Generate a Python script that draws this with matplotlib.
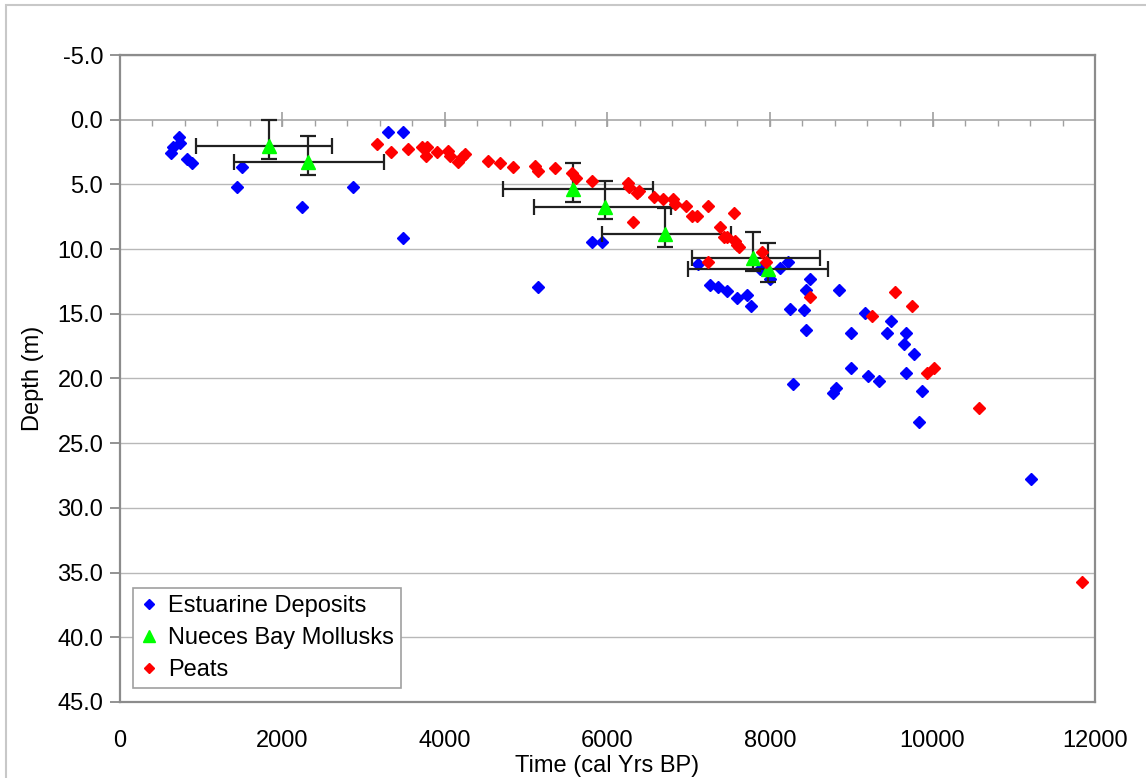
import numpy as np
import matplotlib
matplotlib.use("Agg")
import matplotlib.pyplot as plt
from matplotlib.patches import Rectangle

plt.rcParams['font.family'] = ['Liberation Sans', 'DejaVu Sans']

# Estuarine deposits (blue diamonds)
est_time = [726, 739, 648, 628, 829, 882, 1497, 1445, 2244, 2872, 3294, 3487, 3487,
            5140, 5809, 5932, 7109, 7265, 7355, 7470, 7597, 7720, 7766, 7872, 7996,
            8127, 8216, 8437, 8498, 8851, 8246, 8418, 8438, 8279, 8779, 8808, 8993,
            8993, 9169, 9202, 9345, 9490, 9443, 9670, 9653, 9776, 9670, 9867, 9833,
            11212]
est_depth = [1.31, 1.83, 2.13, 2.6, 3.06, 3.37, 3.68, 5.22, 6.72, 5.22, 0.93, 0.93, 9.12,
             12.9, 9.47, 9.47, 11.17, 12.77, 12.9, 13.24, 13.77, 13.58, 14.4, 11.56, 12.33,
             11.48, 10.97, 13.13, 12.28, 13.13, 14.65, 14.7, 16.25, 20.45, 21.15, 20.76, 16.5,
             19.2, 14.91, 19.78, 20.19, 15.56, 16.5, 16.46, 17.33, 18.13, 19.55, 20.97, 23.39,
             27.77]

# Nueces Bay mollusks (green triangles with error ranges)
moll_time = [1830, 2318, 5575, 5969, 6712, 7787, 7980]
moll_depth = [2.0, 3.27, 5.36, 6.75, 8.86, 10.66, 11.54]
moll_time_lo = [931, 1407, 4710, 5099, 5928, 7036, 6994]
moll_time_hi = [2609, 3249, 6564, 6782, 7520, 8615, 8710]
moll_depth_lo = [0.02, 1.24, 3.32, 4.74, 6.8, 8.7, 9.55]
moll_depth_hi = [3.06, 4.27, 6.34, 7.7, 9.81, 11.67, 12.52]

# Peats (red diamonds)
peat_time = [3159, 3335, 3549, 3721, 3783, 3766, 3898, 4033, 4062, 4165, 4205, 4246,
             4533, 4677, 4841, 5108, 5148, 5354, 5560, 5609, 5813, 6257, 6270, 6360,
             6392, 6319, 6574, 6688, 6812, 6831, 6963, 7036, 7106, 7233, 7552, 7380,
             7429, 7470, 7569, 7598, 7613, 7898, 7236, 7951, 8492, 9252, 9538, 9748,
             9932, 10015, 10576, 11844]
peat_depth = [1.9, 2.47, 2.29, 2.09, 2.09, 2.8, 2.47, 2.42, 2.8, 3.24, 2.86, 2.68,
              3.19, 3.37, 3.63, 3.55, 3.96, 3.76, 4.14, 4.48, 4.74, 4.87, 5.18, 5.69,
              5.49, 7.93, 5.95, 6.13, 6.13, 6.51, 6.67, 7.44, 7.44, 6.67, 7.23, 8.27,
              9.09, 9.09, 9.35, 9.68, 9.81, 10.2, 11.0, 10.97, 13.74, 15.17, 13.29, 14.37,
              19.55, 19.21, 22.3, 35.73]

fig = plt.figure(figsize=(11.46, 7.78), dpi=100)
ax = fig.add_axes([0.1047, 0.0977, 0.8508, 0.8316])

# outer chart border
fig.patches.append(Rectangle((6 / 1146, -0.01), 1.02, 1 - 5 / 778 + 0.01,
                             transform=fig.transFigure, fill=False,
                             edgecolor='#c8c8c8', linewidth=1.5))

ax.set_xlim(0, 12000)
ax.set_ylim(45, -5)
for d in range(-5, 50, 5):
    if d != 0:
        ax.axhline(d, color='#b8b8b8', linewidth=1, zorder=0)

# horizontal axis drawn at depth 0 (Excel style)
ax.axhline(0, color='#a8a8a8', linewidth=1.2, zorder=1)
ax.vlines(np.arange(0, 12001, 2000), -0.6, 0.55, color='#a0a0a0', linewidth=1.2, zorder=1)
ax.vlines(np.arange(400, 12000, 400), 0, 0.45, color='#a0a0a0', linewidth=1, zorder=1)

h1, = ax.plot(est_time, est_depth, linestyle='none', marker='D', markersize=6,
              color='#0000ff', label='Estuarine Deposits', zorder=3)

mt = np.array(moll_time)
md = np.array(moll_depth)
xerr = [mt - np.array(moll_time_lo), np.array(moll_time_hi) - mt]
yerr = [md - np.array(moll_depth_lo), np.array(moll_depth_hi) - md]
ax.errorbar(mt, md, xerr=xerr, yerr=yerr, fmt='none', ecolor='#202020',
            elinewidth=1.6, capsize=5.5, capthick=1.6, zorder=4)
h2, = ax.plot(mt, md, linestyle='none', marker='^', markersize=10,
              color='#00ff00', label='Nueces Bay Mollusks', zorder=5)

h3, = ax.plot(peat_time, peat_depth, linestyle='none', marker='D', markersize=6,
              color='#ff0000', label='Peats', zorder=6)

ax.set_xticks(np.arange(0, 12001, 2000))
ax.set_yticks(np.arange(-5, 46, 5))
ax.set_yticklabels([f'{v:.1f}' for v in np.arange(-5, 46, 5)])
ax.tick_params(axis='x', length=0, pad=20, labelsize=17)
ax.tick_params(axis='y', length=7, width=1.2, color='#808080', pad=5, labelsize=17)

for s in ax.spines.values():
    s.set_color('#8c8c8c')
    s.set_linewidth(1.6)

ax.set_xlabel('Time (cal Yrs BP)', fontsize=17, labelpad=2)
ax.set_ylabel('Depth (m)', fontsize=17, labelpad=10)

leg = ax.legend(handles=[h1, h2, h3], loc='lower left',
                bbox_to_anchor=(0.0133, 0.0216), borderaxespad=0,
                fontsize=17, fancybox=False, framealpha=1, edgecolor='#a0a0a0',
                handlelength=0.8, handletextpad=0.4, borderpad=0.3,
                labelspacing=0.42, markerscale=0.8)
leg.get_frame().set_linewidth(1.2)

plt.savefig('out.png', dpi=100)
